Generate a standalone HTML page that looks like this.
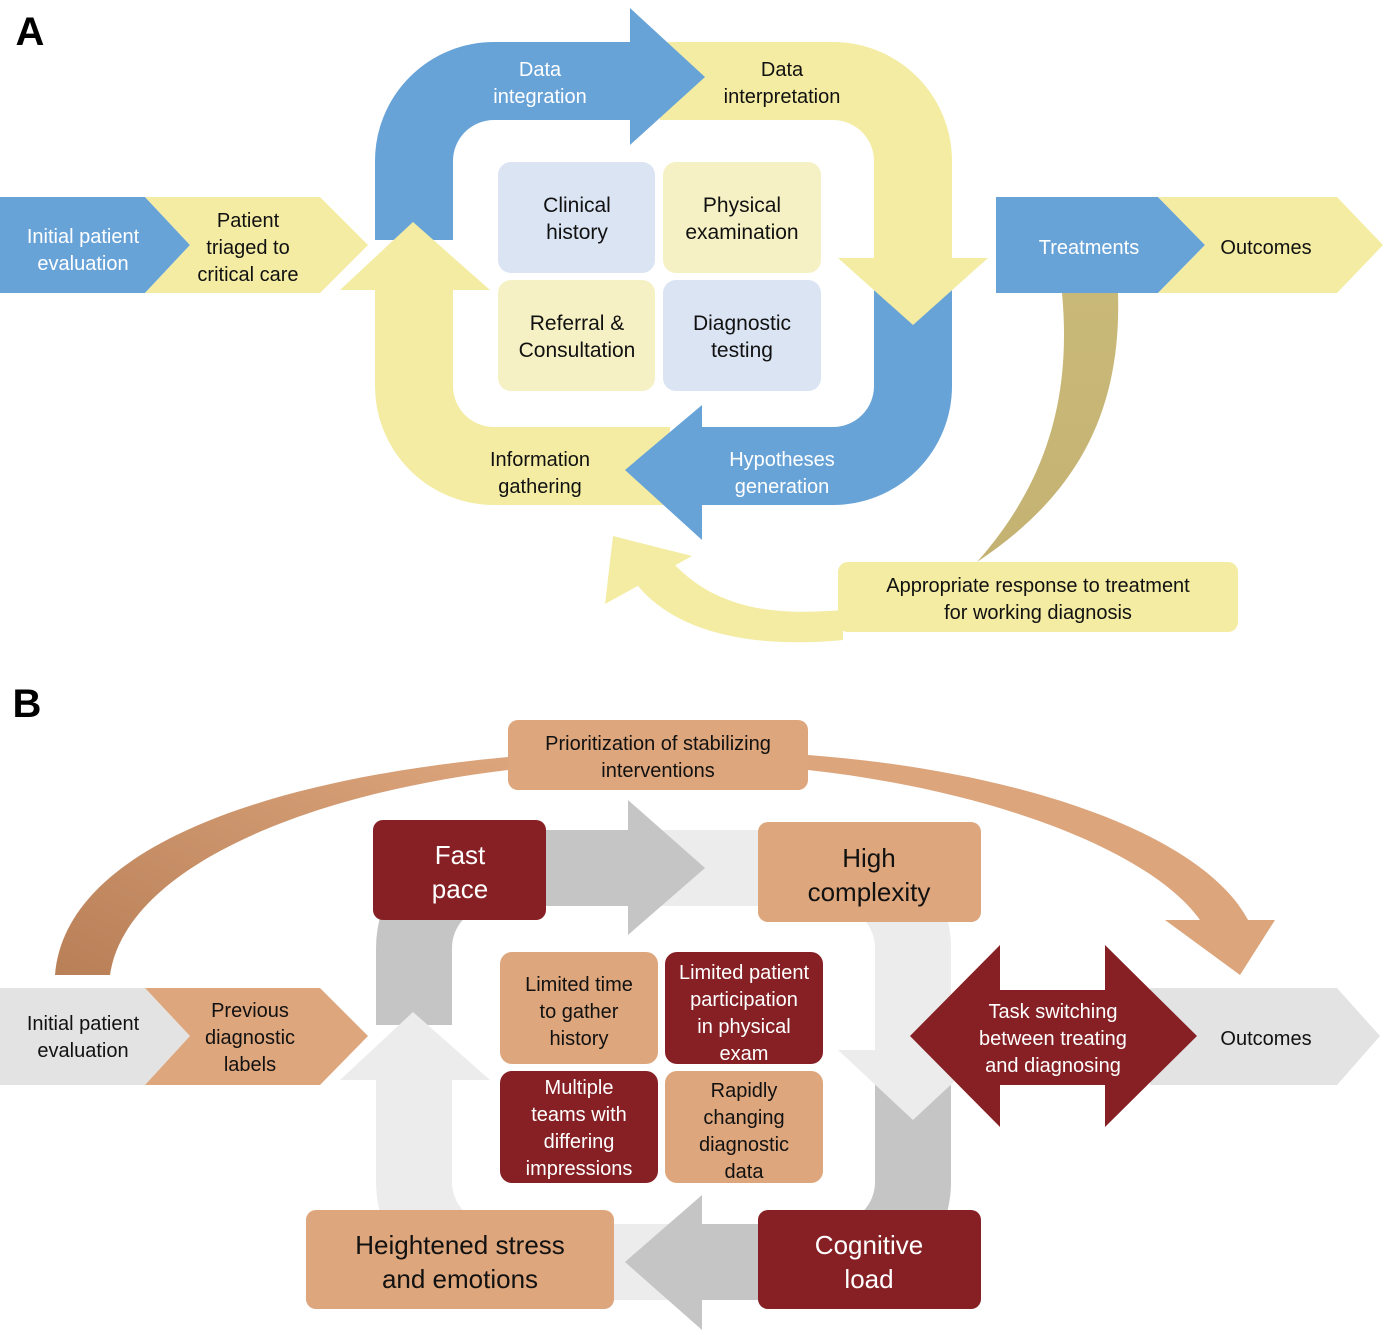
<!DOCTYPE html>
<html><head><meta charset="utf-8"><style>
body{margin:0;background:#fff}
svg{display:block}
text{font-family:"Liberation Sans",sans-serif;text-anchor:middle}
</style></head><body>
<svg width="1385" height="1335" viewBox="0 0 1385 1335" xmlns="http://www.w3.org/2000/svg">
<defs>
<linearGradient id="ol" x1="0" y1="0" x2="0" y2="1"><stop offset="0" stop-color="#c9b978"/><stop offset="1" stop-color="#c4b272"/></linearGradient>
<linearGradient id="br" x1="0" y1="1" x2="1" y2="0"><stop offset="0" stop-color="#b98058"/><stop offset="1" stop-color="#dca57c"/></linearGradient>
</defs>
<text x="30" y="45" font-size="40" font-weight="bold">A</text>
<text x="27" y="717" font-size="40" font-weight="bold">B</text>

<g fill="none" stroke-width="78">
<path d="M414,240 L414,161 A80,80 0 0 1 494,81 L640,81" stroke="#68a3d8"/>
<path d="M660,81 L833,81 A80,80 0 0 1 913,161 L913,262" stroke="#f3eca2"/>
<path d="M913,290 L913,386 A80,80 0 0 1 833,466 L690,466" stroke="#68a3d8"/>
<path d="M670,466 L494,466 A80,80 0 0 1 414,386 L414,285" stroke="#f3eca2"/>
</g>
<polygon points="630,8 705,77 630,145" fill="#68a3d8"/>
<polygon points="838,258 988,258 913,325" fill="#f3eca2"/>
<polygon points="702,405 702,540 625,470" fill="#68a3d8"/>
<polygon points="340,290 490,290 413,222" fill="#f3eca2"/>
<g font-size="20" fill="#fff"><text x="540" y="76">Data</text><text x="540" y="103">integration</text>
<text x="782" y="466">Hypotheses</text><text x="782" y="493">generation</text></g>
<g font-size="20" fill="#111"><text x="782" y="76">Data</text><text x="782" y="103">interpretation</text>
<text x="540" y="466">Information</text><text x="540" y="493">gathering</text></g>

<rect x="498" y="162" width="157" height="111" rx="13" fill="#dbe4f3"/>
<rect x="663" y="162" width="158" height="111" rx="13" fill="#f6f1c4"/>
<rect x="498" y="280" width="157" height="111" rx="13" fill="#f6f1c4"/>
<rect x="663" y="280" width="158" height="111" rx="13" fill="#dbe4f3"/>
<g font-size="21" fill="#111">
<text x="577" y="212">Clinical</text><text x="577" y="239">history</text>
<text x="742" y="212">Physical</text><text x="742" y="239">examination</text>
<text x="577" y="330">Referral &amp;</text><text x="577" y="357">Consultation</text>
<text x="742" y="330">Diagnostic</text><text x="742" y="357">testing</text></g>

<polygon points="0,197 145,197 190,245 145,293 0,293" fill="#68a3d8"/>
<polygon points="145,197 320,197 368,245 320,293 145,293 190,245" fill="#f3eca2"/>
<text x="83" y="243" font-size="20" fill="#fff">Initial patient</text><text x="83" y="270" font-size="20" fill="#fff">evaluation</text>
<g font-size="20" fill="#111"><text x="248" y="227">Patient</text><text x="248" y="254">triaged to</text><text x="248" y="281">critical care</text></g>
<polygon points="996,197 1158,197 1205,245 1158,293 996,293" fill="#68a3d8"/>
<polygon points="1158,197 1337,197 1383,245 1337,293 1158,293 1205,245" fill="#f3eca2"/>
<text x="1089" y="254" font-size="20" fill="#fff">Treatments</text>
<text x="1266" y="254" font-size="20" fill="#111">Outcomes</text>

<path d="M1062,293 L1118,293 C1122,420 1070,500 977,562 C1045,485 1072,400 1062,293 Z" fill="url(#ol)"/>
<path d="M674,564 C720,612 780,615 843,610 L843,640 C760,648 680,636 638,586 Z" fill="#f3eca2"/>
<polygon points="613,536 692,556 605,604" fill="#f3eca2"/>
<rect x="838" y="562" width="400" height="70" rx="10" fill="#f3eca2"/>
<g font-size="20" fill="#111"><text x="1038" y="592">Appropriate response to treatment</text><text x="1038" y="619">for working diagnosis</text></g>

<path d="M508,757 C260,780 65,850 55,975 L110,975 C125,870 300,795 508,770 Z" fill="url(#br)"/>
<path d="M808,755 C1010,770 1200,830 1248,920 L1200,920 C1150,850 990,790 808,770 Z" fill="#dca57c"/>
<polygon points="1165,920 1275,920 1240,975" fill="#dca57c"/>
<rect x="508" y="720" width="300" height="70" rx="10" fill="#dea67c"/>
<g font-size="20" fill="#111"><text x="658" y="750">Prioritization of stabilizing</text><text x="658" y="777">interventions</text></g>

<g fill="none" stroke-width="76">
<path d="M414,1025 L414,948 A80,80 0 0 1 494,868 L640,868" stroke="#c5c5c5"/>
<path d="M660,868 L833,868 A80,80 0 0 1 913,948 L913,1055" stroke="#ececec"/>
<path d="M913,1085 L913,1182 A80,80 0 0 1 833,1262 L690,1262" stroke="#c5c5c5"/>
<path d="M670,1262 L494,1262 A80,80 0 0 1 414,1182 L414,1075" stroke="#ececec"/>
</g>
<polygon points="628,800 705,868 628,935" fill="#c5c5c5"/>
<polygon points="838,1050 988,1050 913,1120" fill="#ececec"/>
<polygon points="702,1195 702,1330 625,1262" fill="#c5c5c5"/>
<polygon points="340,1080 490,1080 413,1012" fill="#ececec"/>

<rect x="373" y="820" width="173" height="100" rx="10" fill="#862024"/>
<rect x="758" y="822" width="223" height="100" rx="10" fill="#dea67c"/>
<rect x="306" y="1210" width="308" height="99" rx="10" fill="#dea67c"/>
<rect x="758" y="1210" width="223" height="99" rx="10" fill="#862024"/>
<g font-size="26"><text x="460" y="864" fill="#fff">Fast</text><text x="460" y="898" fill="#fff">pace</text>
<text x="869" y="867" fill="#111">High</text><text x="869" y="901" fill="#111">complexity</text>
<text x="460" y="1254" fill="#111">Heightened stress</text><text x="460" y="1288" fill="#111">and emotions</text>
<text x="869" y="1254" fill="#fff">Cognitive</text><text x="869" y="1288" fill="#fff">load</text></g>

<rect x="500" y="952" width="158" height="112" rx="12" fill="#dea67c"/>
<rect x="665" y="952" width="158" height="112" rx="12" fill="#862024"/>
<rect x="500" y="1071" width="158" height="112" rx="12" fill="#862024"/>
<rect x="665" y="1071" width="158" height="112" rx="12" fill="#dea67c"/>
<g font-size="20">
<g fill="#111"><text x="579" y="991">Limited time</text><text x="579" y="1018">to gather</text><text x="579" y="1045">history</text>
<text x="744" y="1097">Rapidly</text><text x="744" y="1124">changing</text><text x="744" y="1151">diagnostic</text><text x="744" y="1178">data</text></g>
<g fill="#fff"><text x="744" y="979">Limited patient</text><text x="744" y="1006">participation</text><text x="744" y="1033">in physical</text><text x="744" y="1060">exam</text>
<text x="579" y="1094">Multiple</text><text x="579" y="1121">teams with</text><text x="579" y="1148">differing</text><text x="579" y="1175">impressions</text></g></g>

<polygon points="0,988 145,988 190,1036 145,1085 0,1085" fill="#e3e3e3"/>
<polygon points="145,988 320,988 368,1036 320,1085 145,1085 190,1036" fill="#dea67c"/>
<g font-size="20" fill="#111"><text x="83" y="1030">Initial patient</text><text x="83" y="1057">evaluation</text>
<text x="250" y="1017">Previous</text><text x="250" y="1044">diagnostic</text><text x="250" y="1071">labels</text></g>
<polygon points="1150,988 1337,988 1380,1036 1337,1085 1150,1085" fill="#e3e3e3"/>
<text x="1266" y="1045" font-size="20" fill="#111">Outcomes</text>
<polygon points="910,1036 1000,945 1000,990 1105,990 1105,945 1197,1036 1105,1127 1105,1085 1000,1085 1000,1127" fill="#862024"/>
<g font-size="20" fill="#fff"><text x="1053" y="1018">Task switching</text><text x="1053" y="1045">between treating</text><text x="1053" y="1072">and diagnosing</text></g>
</svg>
</body></html>
